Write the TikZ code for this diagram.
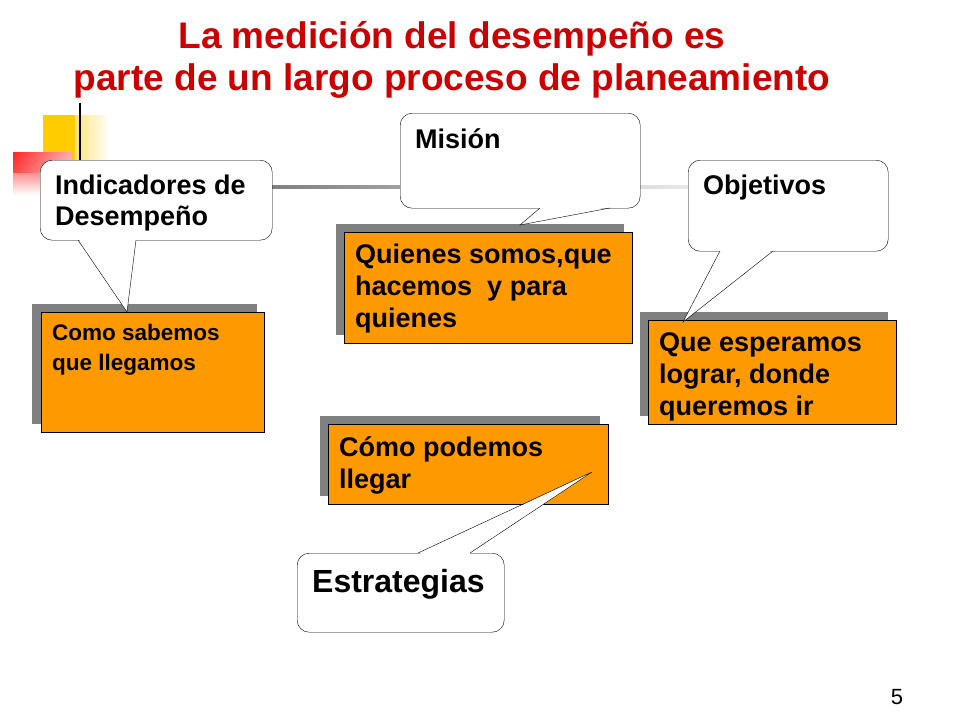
\documentclass[tikz,border=0pt]{standalone}
\usepackage{fontspec}
\setmainfont{Liberation Sans}
\usetikzlibrary{calc}
\definecolor{org}{RGB}{255,153,0}
\definecolor{ttl}{RGB}{204,0,0}
\definecolor{shd}{RGB}{128,128,128}
\definecolor{yel}{RGB}{255,204,0}
\tikzset{
  ob/.style={draw=black, fill=org, anchor=north west, inner sep=0pt},
  sh/.style={fill=shd, anchor=north west, inner sep=0pt},
  cal/.style={draw=black, fill=white, rounded corners=12pt, anchor=north west, inner sep=0pt},
  tx/.style={anchor=north west, font=\bfseries, align=left, inner sep=0pt}
}
\begin{document}
\begin{tikzpicture}[x=1pt,y=-1pt]
\useasboundingbox (0,0) rectangle (960,720);
% title
\node[font=\bfseries\fontsize{37}{42}\selectfont, text=ttl, align=center] (title) at (452,60) {La medición del desempeño es\\parte de un largo proceso de planeamiento};
% decoration
\shade[left color=yel, right color=white] (43,115) rectangle (110,172);
\fill[yel] (43,115) rectangle (75,172);
\shade[top color=red!85, bottom color=white] (13,152) rectangle (72,195);
\shade[left color=red!85, right color=red!10, opacity=0.7] (13,152) rectangle (72,172);
\draw[line width=2pt] (80,103) -- (80,170);
\shade[left color=shd, right color=shd!15] (272,185.5) rectangle (700,188.5);
% Como sabemos
\node[sh, minimum width=225, minimum height=120] (s1) at (32,304) {};
\node[ob, minimum width=223, minimum height=120] (b1) at (41,312) {};
\node[tx, font=\bfseries\fontsize{22.5}{30}\selectfont] at ($(b1.north west)+(11,12)$) {Como sabemos\\que llegamos};
% Quienes
\node[sh, minimum width=288, minimum height=111] (s2) at (336,224) {};
\node[ob, minimum width=288, minimum height=111] (b2) at (344,232) {};
\node[tx, font=\bfseries\fontsize{27}{32}\selectfont] at ($(b2.north west)+(11,12)$) {Quienes somos,que\\hacemos\ \ y para\\quienes};
% Que esperamos
\node[sh, minimum width=248, minimum height=104] (s3) at (640,312) {};
\node[ob, minimum width=248, minimum height=104] (b3) at (648,320) {};
\node[tx, font=\bfseries\fontsize{27}{32}\selectfont] at ($(b3.north west)+(11,12)$) {Que esperamos\\lograr, donde\\queremos ir};
% Como podemos
\node[sh, minimum width=280, minimum height=80] (s4) at (320,416) {};
\node[ob, minimum width=280, minimum height=80] (b4) at (328,424) {};
\node[tx, font=\bfseries\fontsize{27}{32}\selectfont] at ($(b4.north west)+(11,12)$) {Cómo podemos\\llegar};
% Indicadores callout
\node[cal, minimum width=232, minimum height=80] (c1) at (40,160) {};
\fill[white] (79,239) -- (127,312) -- (136,239) -- cycle;
\draw (78,240) -- (127,312) -- (136,240);
\node[tx, font=\bfseries\fontsize{27}{31}\selectfont] at ($(c1.north west)+(15,15)$) {Indicadores de\\Desempeño};
% Mision callout
\node[cal, minimum width=240, minimum height=95] (c2) at (400,113) {};
\fill[white] (541,207) -- (520,225) -- (609,207) -- cycle;
\draw (540,208) -- (520,225) -- (610,208);
\node[tx, font=\bfseries\fontsize{27}{31}\selectfont] at ($(c2.north west)+(15,15)$) {Misión};
% Objetivos callout
\node[cal, minimum width=200, minimum height=91] (c3) at (688,160) {};
\fill[white] (721,250) -- (683,322) -- (772,250) -- cycle;
\draw (720,251) -- (683,322) -- (773,251);
\node[tx, font=\bfseries\fontsize{27}{31}\selectfont] at ($(c3.north west)+(15,15)$) {Objetivos};
% Estrategias callout
\node[cal, minimum width=207, minimum height=79] (c4) at (297,553) {};
\fill[white] (419,554) -- (592,472) -- (469,554) -- cycle;
\draw (418,553) -- (592,472) -- (470,553);
\node[tx, font=\bfseries\fontsize{32}{36}\selectfont] at ($(c4.north west)+(15,16)$) {Estrategias};
% page number
\node[font=\fontsize{22}{26}\selectfont] (pn) at (897,697) {5};
\end{tikzpicture}
\end{document}
